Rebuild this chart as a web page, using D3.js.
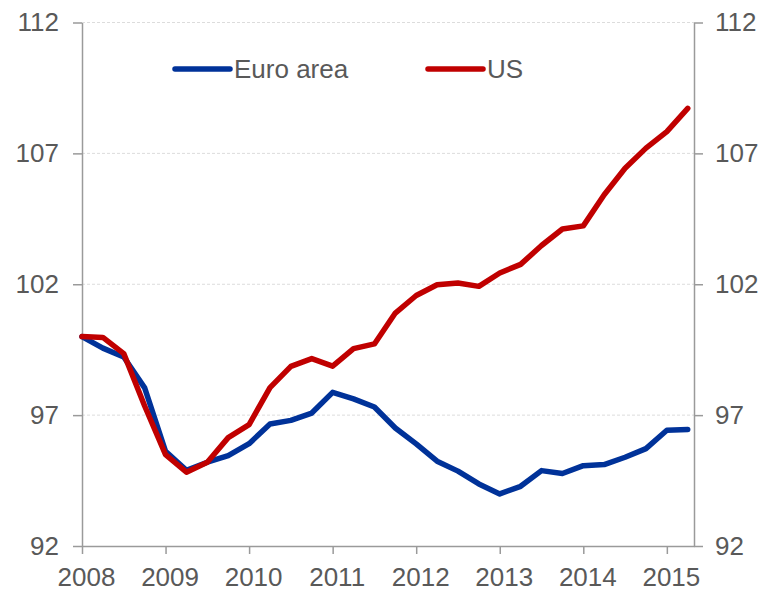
<!DOCTYPE html>
<html>
<head>
<meta charset="utf-8">
<script src="https://cdn.jsdelivr.net/npm/d3@7"></script>
<style>
  body { margin: 0; background: #fff; }
  text { font-family: Arial, "Liberation Sans", sans-serif; }
</style>
</head>
<body>
<svg id="chart" width="765" height="592"></svg>
<script>
// quarterly index, 2008Q1 = 100
var quarters = ["2008Q1","2008Q2","2008Q3","2008Q4","2009Q1","2009Q2","2009Q3","2009Q4",
                "2010Q1","2010Q2","2010Q3","2010Q4","2011Q1","2011Q2","2011Q3","2011Q4",
                "2012Q1","2012Q2","2012Q3","2012Q4","2013Q1","2013Q2","2013Q3","2013Q4",
                "2014Q1","2014Q2","2014Q3","2014Q4","2015Q1","2015Q2"];

var euroArea = [100.0, 99.56, 99.22, 98.04, 95.62, 94.89, 95.20, 95.45,
                95.91, 96.66, 96.80, 97.08, 97.87, 97.62, 97.31, 96.51,
                95.90, 95.24, 94.86, 94.37, 93.99, 94.28, 94.88, 94.77,
                95.07, 95.11, 95.39, 95.72, 96.42, 96.45];

var us = [100.0, 99.97, 99.35, 97.35, 95.49, 94.82, 95.20, 96.14,
          96.64, 98.05, 98.86, 99.16, 98.87, 99.54, 99.72, 100.90,
          101.57, 101.98, 102.05, 101.92, 102.43, 102.76, 103.48, 104.11,
          104.23, 105.42, 106.43, 107.20, 107.83, 108.72];

var yearLabels = ["2008","2009","2010","2011","2012","2013","2014","2015"];
var yTicks = [92, 97, 102, 107, 112];

var series = [
  {name: "Euro area", values: euroArea, color: "#003299", lx: 175},
  {name: "US", values: us, color: "#c00000", lx: 428}
];

var svg = d3.select("#chart");
var plotLeft = 82, plotRight = 694, plotTop = 22.5, plotBottom = 546;
var axisColor = "#9a9a9a", labelColor = "#595959";

var x = d3.scaleLinear().domain([0, 29.3]).range([plotLeft, plotRight]);
var y = d3.scaleLinear().domain([92, 112]).range([plotBottom, plotTop]);

// grid lines
svg.append("g").selectAll("line")
    .data(yTicks.filter(function(d) { return d > 92; }))
  .enter().append("line")
    .attr("x1", plotLeft).attr("x2", plotRight)
    .attr("y1", function(d) { return y(d); })
    .attr("y2", function(d) { return y(d); })
    .attr("stroke", "#dcdcdc")
    .attr("stroke-dasharray", "3,2");

function styleAxis(g) {
  g.selectAll("path, line").attr("stroke", axisColor).attr("stroke-width", 1.5);
  g.selectAll("text").attr("fill", labelColor).style("font-size", "26px")
    .style("font-family", "Arial, 'Liberation Sans', sans-serif");
}

// x axis, one tick at the start of each year
svg.append("g")
    .attr("transform", "translate(0," + plotBottom + ")")
    .call(d3.axisBottom(x)
      .tickValues(yearLabels.map(function(d, i) { return i * 4; }))
      .tickFormat(function(d) { return yearLabels[d / 4]; })
      .tickSize(8).tickSizeOuter(0).tickPadding(13.5))
    .call(styleAxis)
    .selectAll("text").attr("dx", 4);

svg.append("g")
    .attr("transform", "translate(" + plotLeft + ",0)")
    .call(d3.axisLeft(y).tickValues(yTicks).tickSize(9).tickSizeOuter(0).tickPadding(14))
    .call(styleAxis);

svg.append("g")
    .attr("transform", "translate(" + plotRight + ",0)")
    .call(d3.axisRight(y).tickValues(yTicks).tickSize(9).tickSizeOuter(0).tickPadding(12))
    .call(styleAxis);

var line = d3.line()
    .x(function(d, i) { return x(i); })
    .y(function(d) { return y(d); });

svg.append("g").selectAll("path")
    .data(series)
  .enter().append("path")
    .attr("d", function(d) { return line(d.values); })
    .attr("fill", "none")
    .attr("stroke", function(d) { return d.color; })
    .attr("stroke-width", 5.5)
    .attr("stroke-linejoin", "round")
    .attr("stroke-linecap", "round");

// legend
var legend = svg.append("g").selectAll("g")
    .data(series)
  .enter().append("g")
    .attr("transform", function(d) { return "translate(" + d.lx + ",69)"; });

legend.append("line")
    .attr("x1", 0).attr("x2", 55)
    .attr("stroke", function(d) { return d.color; })
    .attr("stroke-width", 5.5)
    .attr("stroke-linecap", "round");

legend.append("text")
    .attr("x", 59)
    .attr("dy", "0.35em")
    .attr("fill", labelColor)
    .style("font-size", "26px")
    .text(function(d) { return d.name; });
</script>
</body>
</html>
